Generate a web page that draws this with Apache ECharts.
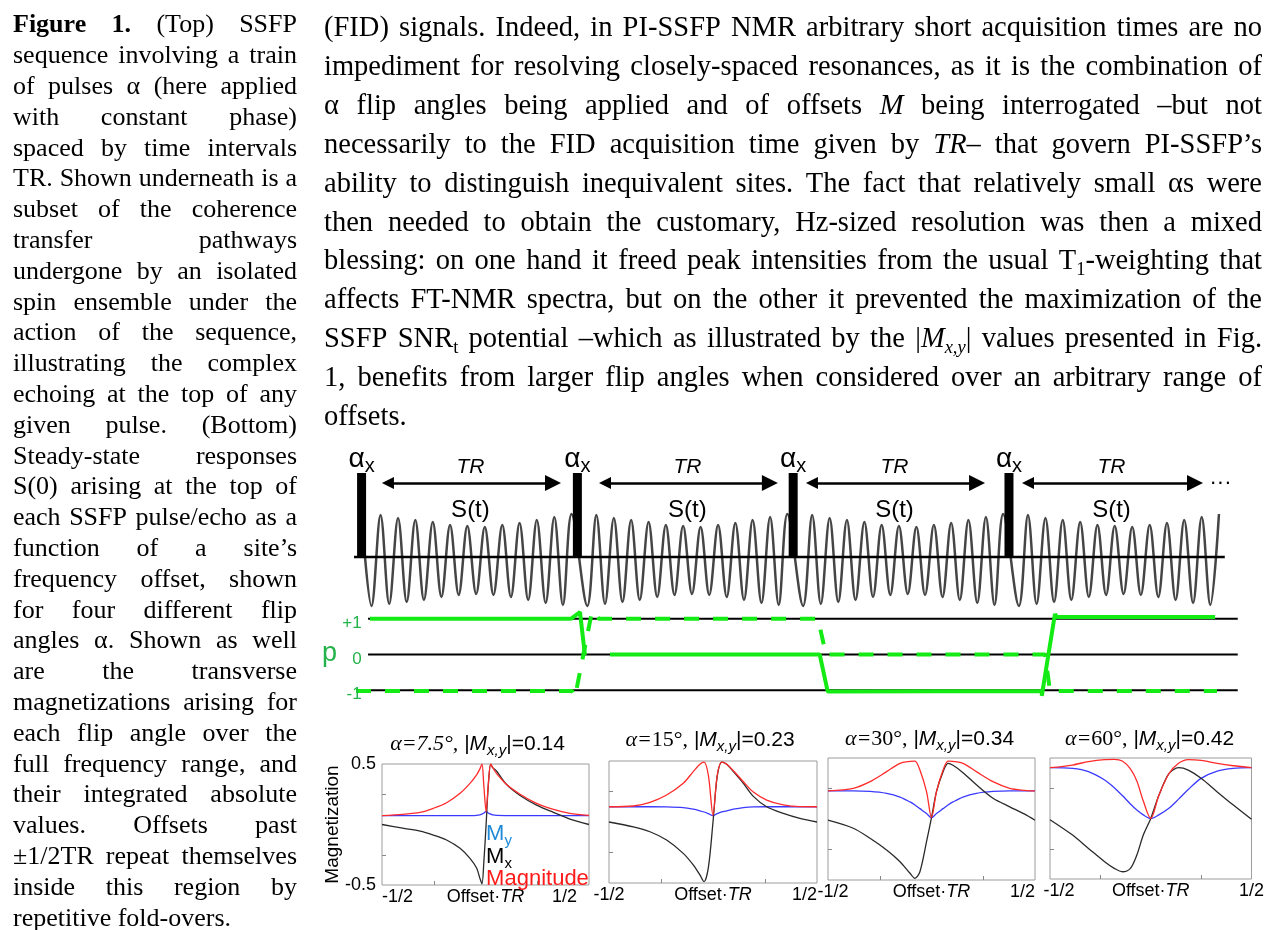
<!DOCTYPE html>
<html><head><meta charset="utf-8">
<script src="https://cdn.jsdelivr.net/npm/echarts@6/dist/echarts.min.js"></script>
<style>html,body{margin:0;padding:0;background:#fff}#c{width:1267px;height:930px}</style>
</head><body><div id="c"></div>
<script>
// ================= DATA =================
const captionLines = [
  "**Figure 1.** (Top) SSFP",
  "sequence involving a train",
  "of pulses α (here applied",
  "with constant phase)",
  "spaced by time intervals",
  "TR. Shown underneath is a",
  "subset of the coherence",
  "transfer pathways",
  "undergone by an isolated",
  "spin ensemble under the",
  "action of the sequence,",
  "illustrating the complex",
  "echoing at the top of any",
  "given pulse. (Bottom)",
  "Steady-state responses",
  "S(0) arising at the top of",
  "each SSFP pulse/echo as a",
  "function of a site’s",
  "frequency offset, shown",
  "for four different flip",
  "angles α. Shown as well",
  "are the transverse",
  "magnetizations arising for",
  "each flip angle over the",
  "full frequency range, and",
  "their integrated absolute",
  "values. Offsets past",
  "±1/2TR repeat themselves",
  "inside this region by",
  "repetitive fold-overs."
];
const bodyLines = [
  "(FID) signals. Indeed, in PI-SSFP NMR arbitrary short acquisition times are no",
  "impediment for resolving closely-spaced resonances, as it is the combination of",
  "α flip angles being applied and of offsets *M* being interrogated –but not",
  "necessarily to the FID acquisition time given by *TR*– that govern PI-SSFP’s",
  "ability to distinguish inequivalent sites. The fact that relatively small αs were",
  "then needed to obtain the customary, Hz-sized resolution was then a mixed",
  "blessing: on one hand it freed peak intensities from the usual T_{1}-weighting that",
  "affects FT-NMR spectra, but on the other it prevented the maximization of the",
  "SSFP SNR_{t} potential –which as illustrated by the |*M*_{*x,y*}| values presented in Fig.",
  "1, benefits from larger flip angles when considered over an arbitrary range of",
  "offsets."
];

// pulse sequence (time in TR units, amplitude in arbitrary units)
const pulseTimes = [0, 1, 2, 3];
const pulseHeight = 84;
const signalStartAmp = 43;
const signalSegTimes = [0.046, 0.088, 0.128, 0.169, 0.209, 0.249, 0.289, 0.330, 0.370, 0.410, 0.450, 0.490,
                        0.531, 0.571, 0.611, 0.652, 0.692, 0.732, 0.772, 0.812, 0.853, 0.893, 0.933, 0.973];
const signalSegAmps  = [-49, 42, -47, 39, -45, 37, -43, 35, -40, 32, -38, 31,
                        -37, 30, -38, 32, -40, 34, -43, 37, -46, 40, -48, 43];
const baselineSpan = [-0.035, 4.0];
const arrowSpans = [[0.122, 0.887], [1.128, 1.892], [2.087, 2.852], [3.088, 3.862]];
const arrowLevel = 74;

// coherence pathways
const coherenceLevels = [1, 0, -1];
const coherenceLabels = ["+1", "0", "-1"];
const levelSpan = [0.03, 4.06];
const pathSolidT = [0.039, 0.97, 1.012, 1.035, null, 1.151, 2.123, 2.16, 3.153, 3.152, 3.213, 3.222, 3.955];
const pathSolidP = [1.0, 1.0, 1.19, -0.01, null, 0.0, 0.0, -1.04, -1.02, -1.16, 1.135, 1.05, 1.05];
const pathDashT = [-0.026, 0.975, 0.989, 1.068, 1.10, 2.115, 2.152, 3.167, 3.19, 3.964];
const pathDashP = [-1.02, -1.02, -1.19, 1.22, 1.0, 1.0, 0.0, 0.0, -1.02, -1.02];

// steady-state responses
const flipAngles = ["7.5", "15", "30", "60"];
const mxyAbs = ["0.14", "0.23", "0.34", "0.42"];
const offsetTickLabels = ["-1/2", "1/2"];
const magTickLabels = ["-0.5", "0.5"];
const offsets1 = [-0.5, -0.4, -0.316, -0.252, -0.188, -0.123, -0.075, -0.043, -0.027, -0.017, -0.008, 0.003, 0.013, 0.025, 0.035, 0.054, 0.102, 0.167, 0.247, 0.328, 0.408, 0.5];
const mag1 = [0.073, 0.084, 0.10, 0.134, 0.18, 0.258, 0.34, 0.41, 0.46, 0.50, 0.32, 0.105, 0.32, 0.50, 0.47, 0.42, 0.33, 0.25, 0.175, 0.125, 0.092, 0.075];
const my1  = [0.073, 0.073, 0.073, 0.073, 0.073, 0.073, 0.074, 0.076, 0.08, 0.085, 0.095, 0.108, 0.095, 0.085, 0.08, 0.076, 0.074, 0.073, 0.073, 0.073, 0.073, 0.073];
const mx1  = [0.0, -0.03, -0.054, -0.087, -0.128, -0.197, -0.28, -0.36, -0.445, -0.49, -0.31, 0.0, 0.31, 0.497, 0.47, 0.44, 0.33, 0.24, 0.16, 0.10, 0.045, 0.0];

const offsets2 = [-0.5, -0.383, -0.303, -0.223, -0.143, -0.095, -0.063, -0.043, -0.022, 0, 0.02, 0.042, 0.066, 0.098, 0.146, 0.194, 0.258, 0.338, 0.418, 0.5];
const mag2 = [0.125, 0.131, 0.161, 0.221, 0.317, 0.413, 0.473, 0.49, 0.38, 0.055, 0.38, 0.49, 0.473, 0.42, 0.33, 0.245, 0.18, 0.14, 0.126, 0.125];
const my2  = [0.125, 0.125, 0.125, 0.124, 0.118, 0.105, 0.092, 0.082, 0.068, 0.052, 0.068, 0.082, 0.092, 0.105, 0.118, 0.124, 0.125, 0.125, 0.125, 0.125];
const mx2  = [0.0, -0.04, -0.08, -0.148, -0.257, -0.352, -0.434, -0.489, -0.37, 0.0, 0.37, 0.49, 0.473, 0.413, 0.317, 0.21, 0.125, 0.071, 0.03, 0.0];

const offsets3 = [-0.5, -0.378, -0.297, -0.217, -0.152, -0.104, -0.08, -0.056, -0.024, 0, 0.024, 0.056, 0.08, 0.104, 0.152, 0.217, 0.297, 0.378, 0.45, 0.5];
const mag3 = [0.23, 0.251, 0.306, 0.388, 0.456, 0.472, 0.475, 0.402, 0.224, 0.011, 0.224, 0.402, 0.475, 0.472, 0.456, 0.388, 0.306, 0.251, 0.235, 0.23];
const my3  = [0.23, 0.23, 0.226, 0.21, 0.18, 0.14, 0.115, 0.085, 0.045, 0.011, 0.045, 0.085, 0.115, 0.14, 0.18, 0.21, 0.226, 0.23, 0.23, 0.23];
const mx3  = [-0.01, -0.076, -0.158, -0.254, -0.35, -0.445, -0.486, -0.432, -0.186, 0.011, 0.224, 0.388, 0.456, 0.44, 0.38, 0.28, 0.17, 0.10, 0.04, -0.01];

const offsets4 = [-0.5, -0.388, -0.309, -0.229, -0.181, -0.141, -0.101, -0.069, -0.037, 0, 0.04, 0.09, 0.138, 0.186, 0.25, 0.33, 0.41, 0.5];
const mag4 = [0.42, 0.442, 0.47, 0.487, 0.489, 0.475, 0.41, 0.31, 0.145, 0.0, 0.19, 0.37, 0.456, 0.487, 0.48, 0.455, 0.436, 0.42];
const my4  = [0.42, 0.414, 0.387, 0.318, 0.255, 0.19, 0.12, 0.07, 0.03, 0.0, 0.03, 0.084, 0.16, 0.24, 0.332, 0.392, 0.414, 0.42];
const mx4  = [-0.01, -0.137, -0.247, -0.357, -0.412, -0.44, -0.412, -0.302, -0.137, 0.0, 0.19, 0.37, 0.42, 0.40, 0.332, 0.22, 0.111, -0.007];

// ================= STYLE / LAYOUT =================
const SERIF = '"Liberation Serif", "Times New Roman", serif';
const SANS = '"Liberation Sans", Arial, sans-serif';
const GREEN = '#14ea14';
const GREEN_LABEL = '#24b24a';
const C_MAG = '#ff2b2b', C_MY = '#3a3aff', C_MX = '#2a2a2a';

const chart = echarts.init(document.getElementById('c'), null, {renderer: 'canvas'});

const sigData = [[0, signalStartAmp]];
pulseTimes.forEach(k => signalSegTimes.forEach((t, i) => sigData.push([k + t, signalSegAmps[i]])));
const zip = (a, b) => a.map((x, i) => (x === null ? [x, '-'] : [x, b[i]]));

const plotGrids = [
  {left: 382, top: 764, width: 207, height: 121},
  {left: 609, top: 761, width: 208, height: 122},
  {left: 828, top: 758, width: 207, height: 122},
  {left: 1050, top: 758, width: 209, height: 121}
];
const curves = [
  [offsets1, mag1, my1, mx1],
  [offsets2, mag2, my2, mx2],
  [offsets3, mag3, my3, mx3],
  [offsets4, mag4, my4, mx4]
];
const minAlign = ['left', 'center', 'center', 'center'];
const maxAlign = ['right', 'right', 'right', 'center'];
const minPadL = [0, 0, 10, 18];
const maxPadR = [12, 0, 0, 0];

const grids = [
  {left: 340, top: 457, width: 916, height: 160},
  {left: 340, top: 601, width: 916, height: 107}
].concat(plotGrids.map(g => Object.assign({show: true, borderColor: '#9c9c9c', borderWidth: 1, backgroundColor: 'transparent'}, g)));

const xAxes = [
  {type: 'value', gridIndex: 0, min: -0.1, max: -0.1 + 916 / 215.8, show: false},
  {type: 'value', gridIndex: 1, min: -0.1, max: -0.1 + 916 / 215.8, show: false}
];
const yAxes = [
  {type: 'value', gridIndex: 0, min: -60, max: 100, show: false},
  {type: 'value', gridIndex: 1, min: -1.5, max: 1.5, show: false}
];
const lblFont = {fontFamily: SANS, fontSize: 18, color: '#000'};
plotGrids.forEach((g, i) => {
  xAxes.push({
    type: 'value', gridIndex: i + 2, min: -0.5, max: 0.5, interval: 0.25, position: 'bottom',
    axisLine: {show: false, onZero: false}, splitLine: {show: false},
    axisTick: {show: true, inside: true, length: 4, customValues: [-0.25, 0.25], lineStyle: {color: '#888'}},
    axisLabel: Object.assign({show: true, customValues: [-0.5, 0.5],
      formatter: v => (v < 0 ? '{a|' + offsetTickLabels[0] + '}' : '{b|' + offsetTickLabels[1] + '}'),
      margin: 3, alignMinLabel: minAlign[i], alignMaxLabel: maxAlign[i],
      rich: {a: Object.assign({padding: [0, 0, 0, minPadL[i]]}, lblFont), b: Object.assign({padding: [0, maxPadR[i], 0, 0]}, lblFont)}}, lblFont),
    name: '{n|Offset·}{i|TR}', nameLocation: 'middle', nameGap: 3, nameMoveOverlap: false,
    nameTextStyle: {verticalAlign: 'top', rich: {
      n: {fontFamily: SANS, fontSize: 18, color: '#000'},
      i: {fontFamily: SANS, fontSize: 18, fontStyle: 'italic', color: '#000'}}}
  });
  yAxes.push({
    type: 'value', gridIndex: i + 2, min: -0.5, max: 0.5, interval: 0.25, position: 'left',
    axisLine: {show: false, onZero: false}, splitLine: {show: false},
    axisTick: {show: true, inside: true, length: 4, customValues: [-0.25, 0.25], lineStyle: {color: '#888'}},
    axisLabel: Object.assign({show: i === 0, customValues: [-0.5, 0.5], formatter: v => (v < 0 ? magTickLabels[0] : magTickLabels[1]),
      margin: 6}, lblFont),
    name: i === 0 ? 'Magnetization' : '', nameLocation: 'middle', nameGap: 40, nameRotate: 90, nameMoveOverlap: false,
    nameTextStyle: {fontFamily: SANS, fontSize: 19, color: '#000'}
  });
});

const series = [
  {type: 'line', xAxisIndex: 0, yAxisIndex: 0, data: sigData, smooth: 0.35, symbol: 'none',
   lineStyle: {color: '#454545', width: 2.5}, z: 2},
  {type: 'line', xAxisIndex: 0, yAxisIndex: 0, data: baselineSpan.map(t => [t, 0]), symbol: 'none',
   lineStyle: {color: '#000', width: 2.5}, z: 3},
  {type: 'bar', xAxisIndex: 0, yAxisIndex: 0, data: pulseTimes.map(t => [t, pulseHeight]), barWidth: 9,
   itemStyle: {color: '#000'}, z: 4},
  {type: 'lines', coordinateSystem: 'cartesian2d', xAxisIndex: 0, yAxisIndex: 0,
   data: arrowSpans.map(s => ({coords: [[s[0], arrowLevel], [s[1], arrowLevel]]})),
   symbol: ['triangle', 'triangle'], symbolSize: [12, 16],
   lineStyle: {color: '#000', width: 2.5, opacity: 1}, z: 4}
];
coherenceLevels.forEach(p => series.push({
  type: 'line', xAxisIndex: 1, yAxisIndex: 1, data: levelSpan.map(t => [t, p]), symbol: 'none',
  lineStyle: {color: '#000', width: 2}, z: 2}));
series.push({type: 'line', xAxisIndex: 1, yAxisIndex: 1, data: zip(pathSolidT, pathSolidP), symbol: 'none',
  connectNulls: false, lineStyle: {color: GREEN, width: 4}, z: 3});
series.push({type: 'line', xAxisIndex: 1, yAxisIndex: 1, data: zip(pathDashT, pathDashP), symbol: 'none',
  lineStyle: {color: GREEN, width: 4, type: [15, 14]}, z: 3});
curves.forEach((c, i) => {
  const [x, mag, my, mx] = c;
  series.push({type: 'line', xAxisIndex: i + 2, yAxisIndex: i + 2, data: zip(x, my), smooth: 0.3, symbol: 'none', lineStyle: {color: C_MY, width: 1.3}, z: 2});
  series.push({type: 'line', xAxisIndex: i + 2, yAxisIndex: i + 2, data: zip(x, mx), smooth: 0.3, symbol: 'none', lineStyle: {color: C_MX, width: 1.3}, z: 3});
  series.push({type: 'line', xAxisIndex: i + 2, yAxisIndex: i + 2, data: zip(x, mag), smooth: 0.3, symbol: 'none', lineStyle: {color: C_MAG, width: 1.3}, z: 4});
});

chart.setOption({animation: false, backgroundColor: '#fff', grid: grids, xAxis: xAxes, yAxis: yAxes, series: series});

// ================= TEXT LAYOUT =================
const mctx = document.createElement('canvas').getContext('2d');
function F(size, family, italic, bold) { return (italic ? 'italic ' : '') + (bold ? 'bold ' : '') + size + 'px ' + family; }
function measure(t, font) { mctx.font = font; mctx.textBaseline = 'alphabetic'; return mctx.measureText(t).width; }
function baseOff(font) { mctx.font = font; mctx.textBaseline = 'middle'; const d = mctx.measureText('H').actualBoundingBoxDescent; mctx.textBaseline = 'alphabetic'; return d; }
function textEl(x, y, t, font, fill, align) {
  return {type: 'text', silent: true, z: 100, style: {x: x, y: y, text: t, font: font, fill: fill || '#000', textAlign: align || 'left', verticalAlign: 'middle', textVerticalAlign: 'middle'}};
}
function parseLine(line) {
  const words = []; let cur = []; let bold = false, italic = false, sub = false, buf = '';
  const flush = () => { if (buf) { cur.push({t: buf, bold, italic, sub}); buf = ''; } };
  for (let i = 0; i < line.length; i++) {
    const c = line[i];
    if (c === '*' && line[i + 1] === '*') { flush(); bold = !bold; i++; continue; }
    if (c === '*') { flush(); italic = !italic; continue; }
    if (c === '_' && line[i + 1] === '{') { flush(); sub = true; i++; continue; }
    if (c === '}' && sub) { flush(); sub = false; continue; }
    if (c === ' ' && !sub) { flush(); if (cur.length) { words.push(cur); cur = []; } continue; }
    buf += c;
  }
  flush(); if (cur.length) words.push(cur);
  return words;
}
function paragraph(lines, x0, x1, b0, step, size, family) {
  const out = [];
  const fontOf = r => F(r.sub ? size * 0.65 : size, family, r.italic, r.bold);
  lines.forEach((line, k) => {
    const words = parseLine(line);
    const b = b0 + step * k;
    const widths = words.map(wd => wd.reduce((s, r) => s + measure(r.t, fontOf(r)), 0));
    const total = widths.reduce((a, c) => a + c, 0);
    const justify = k < lines.length - 1 && words.length > 1;
    const gap = justify ? (x1 - x0 - total) / (words.length - 1) : measure(' ', F(size, family));
    let x = x0;
    words.forEach((wd, i) => {
      let xx = x;
      wd.forEach(r => {
        const f = fontOf(r);
        const yb = r.sub ? b + size * 0.2 : b;
        out.push(textEl(xx, yb - baseOff(f), r.t, f, '#000'));
        xx += measure(r.t, f);
      });
      x += widths[i] + gap;
    });
  });
  return out;
}
function runsLine(runs, x, baseline, align) {
  const ws = runs.map(r => measure(r.t, r.font));
  const total = ws.reduce((a, c) => a + c, 0);
  let xx = align === 'center' ? x - total / 2 : align === 'right' ? x - total : x;
  return runs.map((r, i) => { const el = textEl(xx, baseline + (r.dy || 0) - baseOff(r.font), r.t, r.font, r.fill); xx += ws[i]; return el; });
}

let G = [];
G = G.concat(paragraph(captionLines, 13, 297, 32.3, 30.8, 26, SERIF));
G = G.concat(paragraph(bodyLines, 324, 1262, 36, 38.9, 28.5, SERIF));

const P0 = v => chart.convertToPixel({gridIndex: 0}, v);
const P1 = v => chart.convertToPixel({gridIndex: 1}, v);
// pulse labels
pulseTimes.forEach(t => {
  const p = P0([t, 90]);
  G = G.concat(runsLine([{t: 'α', font: F(28, SANS)}, {t: 'x', font: F(20, SANS), dy: 5}], p[0], p[1], 'center'));
});
arrowSpans.forEach(s => {
  const m = (s[0] + s[1]) / 2;
  const a = P0([m, 84]);
  G.push(textEl(a[0], a[1] - baseOff(F(21, SANS, true)), 'TR', F(21, SANS, true), '#000', 'center'));
  const b = P0([m, 40]);
  G.push(textEl(b[0], b[1] - baseOff(F(24, SANS)), 'S(t)', F(24, SANS), '#000', 'center'));
});
{
  const d = P0([3.98, 68]);
  G.push(textEl(d[0], d[1] - baseOff(F(22, SANS)), '···', F(22, SANS), '#000', 'center'));
}
coherenceLevels.forEach((p, i) => {
  const q = P1([0, p]);
  const f = F(17, SANS);
  G.push(textEl(q[0], q[1] + 9 - baseOff(f), coherenceLabels[i], f, GREEN_LABEL, 'right'));
});
{
  const q = P1([0, 0]);
  const f = F(27, SANS);
  G.push(textEl(q[0] - 32, q[1] + 6 - baseOff(f), 'p', f, GREEN_LABEL, 'center'));
}
// plot titles
const titleBase = [750, 746, 745, 745];
const titleShift = [-8, -3, -2, -5];
plotGrids.forEach((g, i) => {
  const cx = g.left + g.width / 2 + titleShift[i];
  const runs = [
    {t: 'α=', font: F(22, SERIF, true)},
    {t: flipAngles[i] + '°,', font: F(22, SERIF, i === 0)},
    {t: ' |', font: F(21, SANS)},
    {t: 'M', font: F(21, SANS, true)},
    {t: 'x,y', font: F(15, SANS, true), dy: 5},
    {t: '|=' + mxyAbs[i], font: F(21, SANS)}
  ];
  G = G.concat(runsLine(runs, cx, titleBase[i], 'center'));
});
// in-plot legend of first panel
{
  const x = chart.convertToPixel({gridIndex: 2}, [0.003, 0])[0];
  G = G.concat(runsLine([{t: 'M', font: F(22, SANS), fill: '#1f8ad8'}, {t: 'y', font: F(15, SANS), fill: '#1f8ad8', dy: 5}], x, 840, 'left'));
  G = G.concat(runsLine([{t: 'M', font: F(22, SANS), fill: '#000'}, {t: 'x', font: F(15, SANS), fill: '#000', dy: 5}], x, 863, 'left'));
  G = G.concat(runsLine([{t: 'Magnitude', font: F(22, SANS), fill: '#ff1a1a'}], x, 885, 'left'));
}
chart.setOption({graphic: G});
</script>
</body></html>
